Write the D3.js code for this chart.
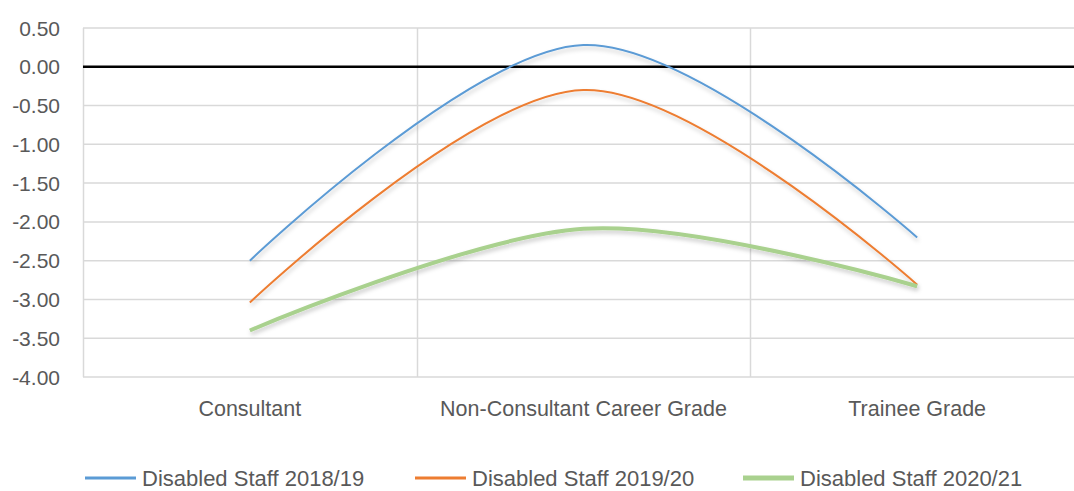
<!DOCTYPE html>
<meta charset="utf-8">
<script src="https://d3js.org/d3.v7.min.js"></script>
<style>
  body { margin: 0; background: #fff; }
  text { fill: #595959; }
</style>
<div id="chart"></div>
<script>
    var width = 1074, height = 491;
    var margin = {top: 28, left: 83, bottom: 114};

    const categories = ["Consultant", "Non-Consultant Career Grade", "Trainee Grade"];
    const seriesNames = ["Disabled Staff 2018/19", "Disabled Staff 2019/20", "Disabled Staff 2020/21"];
    const staff1819 = [-2.50, 0.28, -2.20];
    const staff1920 = [-3.04, -0.30, -2.81];
    const staff2021 = [-3.40, -2.09, -2.83];
    const yTicks = [0.5, 0, -0.5, -1, -1.5, -2, -2.5, -3, -3.5, -4];
    const colors = ["#5B9BD5", "#ED7D31", "#A9D18E"];
    const widths = [2, 2, 4];

    var series = [staff1819, staff1920, staff2021];

    var svg = d3.select("#chart").append("svg")
        .attr("width", width)
        .attr("height", height)
        .style("font-family", "'Liberation Sans', Arial, sans-serif");

    var defs = svg.append("defs");
    var f = defs.append("filter").attr("id", "shadow")
        .attr("x", "-10%").attr("y", "-10%").attr("width", "120%").attr("height", "130%");
    f.append("feDropShadow")
        .attr("dx", 1).attr("dy", 3).attr("stdDeviation", 2)
        .attr("flood-color", "#000").attr("flood-opacity", 0.2);

    var x = d3.scaleBand()
        .domain(categories)
        .range([margin.left, 1084]);

    var y = d3.scaleLinear()
        .domain([-4, 0.5])
        .range([377, margin.top]);

    // horizontal gridlines
    svg.append("g").selectAll("line")
        .data(yTicks)
        .enter().append("line")
        .attr("x1", margin.left).attr("x2", width)
        .attr("y1", d => y(d)).attr("y2", d => y(d))
        .attr("stroke", "#d9d9d9").attr("stroke-width", 1.5);

    // vertical gridlines at category boundaries
    svg.append("g").selectAll("line")
        .data(categories)
        .enter().append("line")
        .attr("x1", d => Math.round(x(d)) + 0.5).attr("x2", d => Math.round(x(d)) + 0.5)
        .attr("y1", y(0.5)).attr("y2", y(-4))
        .attr("stroke", "#d9d9d9").attr("stroke-width", 1.5);

    // y axis labels
    svg.append("g").selectAll("text")
        .data(yTicks)
        .enter().append("text")
        .attr("x", 60)
        .attr("y", d => y(d))
        .attr("dy", "0.36em")
        .attr("text-anchor", "end")
        .style("font-size", "21px")
        .text(d => d3.format(".2f")(d).replace("−", "-"));

    // category labels
    svg.append("g").selectAll("text")
        .data(categories)
        .enter().append("text")
        .attr("x", d => x(d) + x.bandwidth() / 2)
        .attr("y", 408)
        .attr("dy", "0.36em")
        .attr("text-anchor", "middle")
        .style("font-size", "21.5px")
        .text(d => d);

    // zero line
    svg.append("line")
        .attr("x1", margin.left).attr("x2", width)
        .attr("y1", y(0)).attr("y2", y(0))
        .attr("stroke", "#000").attr("stroke-width", 2.5);

    var line = d3.line()
        .x((d, i) => x(categories[i]) + x.bandwidth() / 2)
        .y(d => y(d))
        .curve(d3.curveCardinal.tension(0));

    svg.append("g").selectAll("path")
        .data(series)
        .enter().append("path")
        .attr("d", d => line(d))
        .attr("fill", "none")
        .attr("stroke", (d, i) => colors[i])
        .attr("stroke-width", (d, i) => widths[i])
        .attr("filter", "url(#shadow)");

    // legend
    var legendX = [85, 415, 743];
    var lg = svg.append("g").selectAll("g")
        .data(seriesNames)
        .enter().append("g")
        .attr("transform", (d, i) => "translate(" + legendX[i] + ",478)");
    lg.append("line")
        .attr("x1", 0).attr("x2", 51)
        .attr("stroke", (d, i) => colors[i])
        .attr("stroke-width", (d, i) => widths[i] + 1);
    lg.append("text")
        .attr("x", 57)
        .attr("dy", "0.36em")
        .style("font-size", "22px")
        .text(d => d);
</script>
